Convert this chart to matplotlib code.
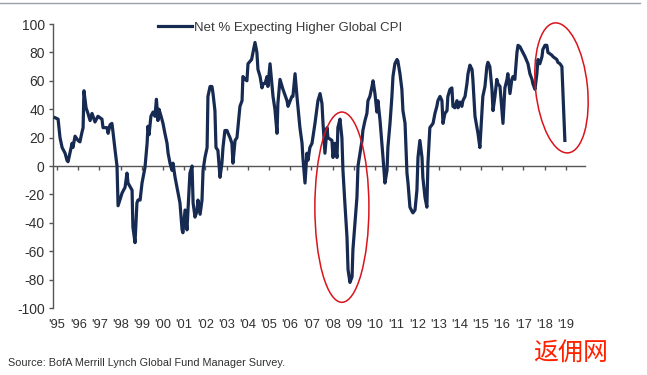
import matplotlib
matplotlib.use("Agg")
import matplotlib.pyplot as plt
from matplotlib.patches import Ellipse
from matplotlib.lines import Line2D
from matplotlib.transforms import Affine2D

# ---- data (decimal year, net % expecting higher global CPI) ----
years = [
    1994.91, 1995.05, 1995.14, 1995.24, 1995.38, 1995.47, 1995.52, 1995.61, 1995.71, 1995.75,
    1995.85, 1995.99, 1996.08, 1996.18, 1996.23, 1996.27, 1996.37, 1996.46, 1996.56, 1996.65,
    1996.70, 1996.79, 1996.93, 1997.12, 1997.17, 1997.36, 1997.41, 1997.50, 1997.59, 1997.64,
    1997.74, 1997.83, 1997.88, 1998.07, 1998.21, 1998.30, 1998.35, 1998.54, 1998.58, 1998.68,
    1998.77, 1998.82, 1998.92, 1999.01, 1999.15, 1999.25, 1999.29, 1999.34, 1999.43, 1999.53,
    1999.62, 1999.69, 1999.76, 1999.81, 1999.91, 2000.00, 2000.09, 2000.19, 2000.24, 2000.33,
    2000.42, 2000.47, 2000.57, 2000.66, 2000.80, 2000.90, 2000.94, 2001.04, 2001.13, 2001.18,
    2001.27, 2001.37, 2001.42, 2001.51, 2001.60, 2001.65, 2001.75, 2001.84, 2001.89, 2001.98,
    2002.08, 2002.12, 2002.22, 2002.31, 2002.36, 2002.45, 2002.50, 2002.59, 2002.69, 2002.78,
    2002.83, 2002.92, 2003.02, 2003.07, 2003.16, 2003.25, 2003.30, 2003.40, 2003.49, 2003.63,
    2003.73, 2003.77, 2003.87, 2003.96, 2004.01, 2004.18, 2004.34, 2004.43, 2004.48, 2004.58,
    2004.67, 2004.72, 2004.81, 2004.91, 2004.95, 2005.05, 2005.19, 2005.28, 2005.38, 2005.42,
    2005.52, 2005.66, 2005.85, 2005.90, 2006.08, 2006.13, 2006.23, 2006.32, 2006.46, 2006.56,
    2006.60, 2006.70, 2006.79, 2006.84, 2006.93, 2007.03, 2007.17, 2007.31, 2007.41, 2007.50,
    2007.55, 2007.64, 2007.74, 2007.78, 2007.97, 2008.02, 2008.11, 2008.21, 2008.25, 2008.35,
    2008.44, 2008.49, 2008.58, 2008.68, 2008.73, 2008.82, 2008.92, 2008.96, 2009.06, 2009.15,
    2009.20, 2009.39, 2009.43, 2009.53, 2009.62, 2009.67, 2009.76, 2009.86, 2009.91, 2010.00,
    2010.09, 2010.14, 2010.24, 2010.38, 2010.47, 2010.57, 2010.61, 2010.71, 2010.80, 2010.85,
    2010.94, 2011.04, 2011.08, 2011.18, 2011.27, 2011.32, 2011.42, 2011.51, 2011.56, 2011.65,
    2011.75, 2011.79, 2011.89, 2011.98, 2012.03, 2012.12, 2012.22, 2012.26, 2012.36, 2012.45,
    2012.50, 2012.59, 2012.69, 2012.74, 2012.83, 2012.92, 2012.97, 2013.07, 2013.16, 2013.21,
    2013.30, 2013.40, 2013.44, 2013.54, 2013.63, 2013.68, 2013.77, 2013.87, 2013.92, 2014.01,
    2014.10, 2014.15, 2014.25, 2014.34, 2014.39, 2014.48, 2014.58, 2014.62, 2014.72, 2014.81,
    2014.86, 2014.95, 2015.09, 2015.19, 2015.28, 2015.33, 2015.42, 2015.52, 2015.57, 2015.66,
    2015.75, 2015.80, 2015.90, 2015.99, 2016.04, 2016.13, 2016.23, 2016.27, 2016.37, 2016.46,
    2016.51, 2016.60, 2016.70, 2016.75, 2016.84, 2016.98, 2017.08, 2017.22, 2017.31, 2017.41,
    2017.45, 2017.55, 2017.64, 2017.69, 2017.78, 2017.88, 2017.92, 2018.02, 2018.11, 2018.16,
    2018.35, 2018.40, 2018.58, 2018.63, 2018.73, 2018.82, 2018.96,
]
net_pct = [
    34, 33, 20, 13, 9, 4, 3, 9, 16, 13,
    21, 18, 17, 24, 27, 53, 41, 37, 32, 37,
    35, 31, 35, 33, 27, 27, 23, 29, 30, 24,
    11, 0, -28, -19, -15, -5, -12, -17, -43, -54,
    -26, -24, -24, -12, -1, 16, 28, 22, 35, 38,
    35, 47, 32, 40, 35, 30, 23, 16, 9, 2,
    -3, 2, -8, -15, -26, -45, -47, -31, -45, -31,
    -5, 0, -26, -36, -32, -24, -34, -24, -3, 6,
    13, 49, 56, 56, 51, 39, 13, 11, -8, 2,
    13, 25, 25, 23, 20, 16, 2, 18, 20, 42,
    46, 63, 61, 60, 72, 75, 87, 80, 68, 63,
    55, 58, 58, 63, 56, 72, 49, 40, 23, 44,
    61, 54, 46, 42, 49, 49, 65, 49, 27, 16,
    6, -12, 9, 4, 13, 16, 30, 46, 51, 44,
    30, 9, 27, 20, 18, 6, 16, 6, 27, 33,
    20, -3, -26, -50, -73, -82, -78, -59, -40, -22,
    0, 18, 25, 32, 37, 46, 49, 56, 60, 51,
    38, 46, 32, 6, -12, -3, 13, 30, 49, 63,
    72, 75, 74, 65, 54, 39, 30, -5, -12, -29,
    -32, -33, -31, -17, 6, 18, 6, -8, -22, -29,
    2, 27, 29, 30, 37, 42, 46, 49, 46, 30,
    37, 39, 49, 54, 55, 42, 41, 46, 41, 45,
    42, 46, 49, 58, 65, 71, 68, 61, 35, 27,
    23, 13, 49, 56, 70, 73, 70, 54, 39, 49,
    61, 58, 56, 39, 30, 55, 61, 65, 51, 61,
    63, 61, 80, 85, 84, 80, 77, 72, 65, 61,
    58, 54, 65, 75, 72, 77, 82, 85, 85, 80,
    78, 77, 75, 73, 72, 70, 18,
]
tick_years = list(range(1995, 2020))
tick_labels = ["'%02d" % (y % 100) for y in tick_years]
y_ticks = list(range(-100, 101, 20))
series_label = "Net % Expecting Higher Global CPI"
source_text = "Source: BofA Merrill Lynch Global Fund Manager Survey."
watermark = "返佣网"
# highlighted regions (center year, center value, width yrs, height value units, angle deg)
highlight_2008 = (2008.44, -29, 2.55, 134, 0)
highlight_2018 = (2023.0 - 4.2, 55, 2.45, 92, 6)

W, H, DPI = 647, 375, 100
fig = plt.figure(figsize=(W / DPI, H / DPI), dpi=DPI)
fig.patch.set_facecolor("white")

left_px, right_px, top_px, bot_px = 53, 585, 24, 308
ax = fig.add_axes([left_px / W, 1 - bot_px / H, (right_px - left_px) / W, (bot_px - top_px) / H])
ax.set_xlim(1994.81, 2019.91)
ax.set_ylim(-100, 100)

line_color = "#172b52"
ax.plot(years, net_pct, color=line_color, lw=2.3, solid_joinstyle="round", zorder=3,
        label=series_label)

spine_c = "#555555"
for s in ["top", "right"]:
    ax.spines[s].set_visible(False)
ax.spines["left"].set_color(spine_c)
ax.spines["left"].set_linewidth(1.0)
ax.spines["bottom"].set_position(("data", 0))
ax.spines["bottom"].set_color(spine_c)
ax.spines["bottom"].set_linewidth(1.0)

font_main = ["Liberation Sans", "DejaVu Sans"]
ax.set_yticks(y_ticks)
ax.set_yticklabels([str(v) for v in y_ticks], fontsize=10, color="#303030", family=font_main)
ax.tick_params(axis="y", direction="out", length=3, width=1, color=spine_c, pad=3)

ax.set_xticks(tick_years)
ax.set_xticklabels([])
ax.tick_params(axis="x", direction="out", length=3, width=1, color=spine_c)
xt = ax.get_xaxis_transform()
for yv, lab in zip(tick_years, tick_labels):
    ax.text(yv, -0.06, lab, transform=xt, ha="center", va="center", fontsize=9.3,
            color="#303030", family=font_main)

leg = ax.legend(loc="center left", bbox_to_anchor=(158 / W, 1 - 28 / H),
                bbox_transform=fig.transFigure, frameon=False, fontsize=9.5,
                handlelength=2.6, handletextpad=0.15, borderpad=0, borderaxespad=0,
                prop={"family": font_main, "size": 9.5})
for t in leg.get_texts():
    t.set_color("#3a3a3a")

# highlight ellipses, sized in screen pixels around data centers
fig.canvas.draw()
px_per_year = ax.transData.transform((1, 0))[0] - ax.transData.transform((0, 0))[0]
px_per_unit = ax.transData.transform((0, 1))[1] - ax.transData.transform((0, 0))[1]
for cx, cy, wy, hv, ang in [highlight_2008, highlight_2018]:
    dx, dy = ax.transData.transform((cx, cy))
    e = Ellipse((0, 0), wy * px_per_year, hv * px_per_unit, angle=ang, fill=False,
                edgecolor="#d9141b", lw=1.1,
                transform=Affine2D().translate(dx, dy))
    fig.add_artist(e)

# thin page rule at the top
fig.add_artist(Line2D([0, 640 / W], [1 - 3 / H, 1 - 3 / H], color="#9aa3ad", lw=1.0))

fig.text(8 / W, 1 - 363 / H, source_text, ha="left", va="center", fontsize=7.8,
         color="#303030", family=["Liberation Sans Narrow", "Liberation Sans", "DejaVu Sans"])
fig.text(571 / W, 1 - 354 / H, watermark, ha="center", va="center", fontsize=18,
         color="#ff2200", family=["Noto Sans CJK SC", "DejaVu Sans"])

fig.savefig("out.png", dpi=DPI, facecolor="white")
